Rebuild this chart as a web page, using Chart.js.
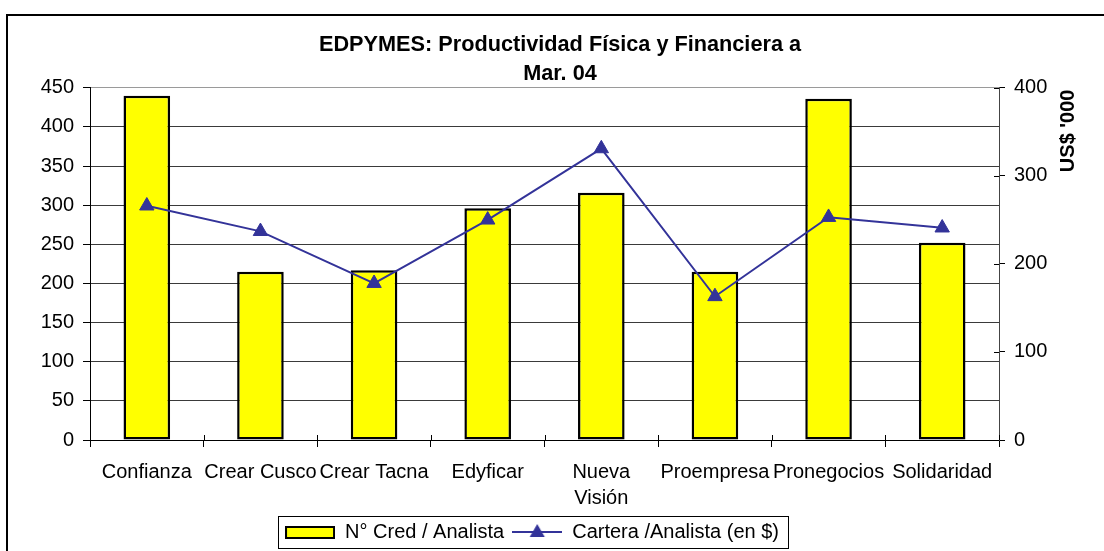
<!DOCTYPE html>
<html><head><meta charset="utf-8">
<script src="https://cdn.jsdelivr.net/npm/chart.js@4.4.0/dist/chart.umd.min.js"></script>
<style>
html,body{margin:0;padding:0;background:#fff;overflow:hidden;width:1104px;height:551px;}
#frame{position:absolute;left:6px;top:14px;width:2000px;height:2000px;border-left:2px solid #000;border-top:2px solid #000;}
#c{position:absolute;left:0;top:0;}
</style></head><body>
<div id="frame"></div>
<canvas id="c" width="1104" height="551"></canvas>
<script>
// ---- data ----
const categories = ['Confianza', 'Crear Cusco', 'Crear Tacna', 'Edyficar', ['Nueva', 'Visión'], 'Proempresa', 'Pronegocios', 'Solidaridad'];
const creditsPerAnalyst = [440, 215, 217, 296, 316, 215, 436, 252];
const portfolioPerAnalyst = [266, 237, 178, 250, 331, 163, 253, 241];
const titleLines = ['EDPYMES: Productividad Física y Financiera a', 'Mar. 04'];
const seriesNames = ['N° Cred / Analista', 'Cartera /Analista (en $)'];
const rightAxisTitle = "US$ '000";
const leftAxisRange = [0, 450, 50];
const rightAxisRange = [0, 400, 100];

// ---- styling ----
const FONT = "'Liberation Sans', Arial, Helvetica, sans-serif";
const BAR_FILL = '#FFFF00';
const LINE_COLOR = '#333399';
const LEGEND_SHIFT = 20;
Chart.defaults.font.family = FONT;
Chart.defaults.font.size = 20;
Chart.defaults.color = '#000';

function makeBarIcon() {
  const c = document.createElement('canvas'); c.width = 50; c.height = 20;
  const g = c.getContext('2d');
  g.fillStyle = BAR_FILL; g.fillRect(1, 5, 48, 11);
  g.strokeStyle = '#000'; g.lineWidth = 2; g.strokeRect(1, 5, 48, 11);
  return c;
}
function makeLineIcon() {
  const c = document.createElement('canvas'); c.width = 50; c.height = 20;
  const g = c.getContext('2d');
  g.strokeStyle = LINE_COLOR; g.lineWidth = 2;
  g.beginPath(); g.moveTo(0, 10); g.lineTo(50, 10); g.stroke();
  g.fillStyle = LINE_COLOR;
  g.beginPath(); g.moveTo(25, 2); g.lineTo(32.5, 15); g.lineTo(17.5, 15); g.closePath(); g.fill();
  return c;
}
const legendIcons = [makeBarIcon(), makeLineIcon()];

const extras = {
  id: 'extras',
  afterLayout(chart) {
    if (chart.titleBlock) { chart.titleBlock.left += 16; }
    if (chart.legend) { chart.legend.left -= LEGEND_SHIFT; chart.legend.right -= LEGEND_SHIFT; }
  },
  afterDraw(chart) {
    const ctx = chart.ctx, ca = chart.chartArea;
    const xs = chart.scales.x, yR = chart.scales.yR;
    ctx.save();
    ctx.strokeStyle = '#000'; ctx.lineWidth = 1;
    yR.ticks.forEach(t => {
      const py = Math.round(yR.getPixelForValue(t.value)) + 0.5;
      ctx.beginPath(); ctx.moveTo(ca.right - 5, py); ctx.lineTo(ca.right, py); ctx.stroke();
    });
    const n = categories.length;
    for (let i = 0; i <= n; i++) {
      let px;
      if (i === 0) px = ca.left; else if (i === n) px = ca.right;
      else px = (xs.getPixelForValue(i - 1) + xs.getPixelForValue(i)) / 2;
      px = Math.round(px) + 0.5;
      ctx.beginPath(); ctx.moveTo(px, ca.bottom - 5); ctx.lineTo(px, ca.bottom); ctx.stroke();
    }
    const hb = chart.legend && chart.legend.legendHitBoxes;
    if (hb && hb.length) {
      const l = Math.min(...hb.map(h => h.left)) - 7;
      const r = Math.max(...hb.map(h => h.left + h.width)) + 9;
      const cy = hb[0].top + hb[0].height / 2;
      ctx.strokeStyle = '#000'; ctx.lineWidth = 1;
      ctx.strokeRect(Math.round(l) + 0.5, Math.round(cy - 16) + 0.5, Math.round(r - l), 32);
    }
    ctx.translate(ca.right + 69, ca.top + 43);
    ctx.rotate(-Math.PI / 2);
    ctx.font = 'bold 20px ' + FONT;
    ctx.fillStyle = '#000'; ctx.textAlign = 'center'; ctx.textBaseline = 'middle';
    ctx.fillText(rightAxisTitle, 0, 0);
    ctx.restore();
  }
};

new Chart(document.getElementById('c'), {
  data: {
    labels: categories,
    datasets: [
      {
        type: 'bar', label: seriesNames[0], data: creditsPerAnalyst, yAxisID: 'y',
        backgroundColor: BAR_FILL, borderColor: '#000', borderWidth: 2.5, borderSkipped: false,
        categoryPercentage: 1, barPercentage: 0.41, order: 2
      },
      {
        type: 'line', label: seriesNames[1], data: portfolioPerAnalyst, yAxisID: 'yR',
        borderColor: LINE_COLOR, borderWidth: 2, backgroundColor: LINE_COLOR,
        pointStyle: 'triangle', pointRadius: 8.3, pointBorderWidth: 1,
        pointBackgroundColor: LINE_COLOR, pointBorderColor: LINE_COLOR,
        tension: 0, fill: false, order: 1
      }
    ]
  },
  options: {
    responsive: false, animation: false, devicePixelRatio: 1,
    layout: { padding: { left: 0, right: 0, top: 0, bottom: -1 } },
    plugins: {
      tooltip: { enabled: false },
      title: {
        display: true, text: titleLines, color: '#000',
        font: { size: 21.7, weight: 'bold', lineHeight: 1.31 },
        padding: { top: 31, bottom: 0 }
      },
      legend: {
        display: true, position: 'bottom',
        labels: {
          usePointStyle: true, pointStyleWidth: 50, padding: 8, color: '#000',
          font: { size: 20 },
          generateLabels(chart) {
            const items = Chart.defaults.plugins.legend.labels.generateLabels(chart);
            items.sort((a, b) => a.datasetIndex - b.datasetIndex);
            items.forEach(it => { it.pointStyle = legendIcons[it.datasetIndex]; });
            return items;
          }
        }
      }
    },
    scales: {
      x: {
        type: 'category', offset: true,
        grid: { offset: true, drawOnChartArea: false, drawTicks: true, tickLength: 7, color: '#000' },
        border: { display: true, color: '#000' },
        ticks: { autoSkip: false, maxRotation: 0, minRotation: 0, padding: 12, font: { size: 20, lineHeight: 1.3 }, color: '#000' },
        afterFit(s) { s.height = 74; }
      },
      y: {
        position: 'left', min: leftAxisRange[0], max: leftAxisRange[1],
        ticks: { stepSize: leftAxisRange[2], padding: 9, font: { size: 20 }, color: '#000' },
        grid: {
          tickLength: 7, tickColor: '#000',
          color: c => (c.tick && c.tick.value === leftAxisRange[1]) ? '#9a9a9a' : '#3a3a3a'
        },
        border: { display: true, color: '#000' },
        afterFit(s) { s.width = 90; }
      },
      yR: {
        position: 'right', min: rightAxisRange[0], max: rightAxisRange[1],
        ticks: { stepSize: rightAxisRange[2], padding: 9, font: { size: 20 }, color: '#000' },
        grid: { drawOnChartArea: false, tickLength: 6, color: '#000' },
        border: { display: true, color: '#444' },
        afterFit(s) { s.width = 105; }
      }
    }
  },
  plugins: [extras]
});
</script></body></html>
